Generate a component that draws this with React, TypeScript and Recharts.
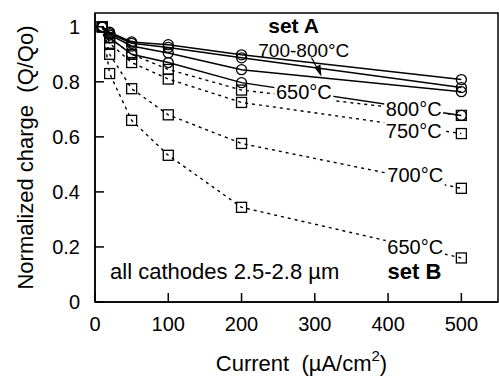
import React from "react";
import {
  LineChart, Line, XAxis, YAxis, ReferenceArea, ReferenceDot,
} from "recharts";

// current density (µA/cm2)
const current = [10, 20, 50, 100, 200, 500];

// set A (circles, solid)
const a800 = [1.0, 0.98, 0.945, 0.935, 0.898, 0.808];
const a750 = [1.0, 0.975, 0.94, 0.925, 0.887, 0.779];
const a700 = [1.0, 0.97, 0.93, 0.905, 0.844, 0.764];
const a650 = [1.0, 0.96, 0.9, 0.87, 0.797, 0.678];

// set B (squares, dotted)
const b800 = [1.0, 0.96, 0.9, 0.845, 0.77, 0.678];
const b750 = [1.0, 0.94, 0.87, 0.81, 0.725, 0.612];
const b700 = [1.0, 0.9, 0.775, 0.68, 0.576, 0.413];
const b650 = [1.0, 0.83, 0.66, 0.533, 0.344, 0.16];

const xTicks = [0, 100, 200, 300, 400, 500];
const yTicks = [0, 0.2, 0.4, 0.6, 0.8, 1];

const setA = [
  { key: "a800", vals: a800 },
  { key: "a750", vals: a750 },
  { key: "a700", vals: a700 },
  { key: "a650", vals: a650 },
];
const setB = [
  { key: "b800", vals: b800 },
  { key: "b750", vals: b750 },
  { key: "b700", vals: b700 },
  { key: "b650", vals: b650 },
];

const data = current.map((c, i) => {
  const row: Record<string, number> = { current: c };
  [...setA, ...setB].forEach((s) => { row[s.key] = s.vals[i]; });
  return row;
});

// text annotations, in data coordinates
const notes = [
  { x: 271, y: 1.005, text: "set A", size: 21, bold: true, box: false },
  { x: 285, y: 0.915, text: "700-800°C", size: 19, bold: false, box: false },
  { x: 285, y: 0.762, text: "650°C", size: 20, bold: false, box: true },
  { x: 435, y: 0.703, text: "800°C", size: 20, bold: false, box: true },
  { x: 435, y: 0.623, text: "750°C", size: 20, bold: false, box: true },
  { x: 437, y: 0.46, text: "700°C", size: 20, bold: false, box: true },
  { x: 437, y: 0.2, text: "650°C", size: 20, bold: false, box: true },
  { x: 177, y: 0.109, text: "all cathodes 2.5-2.8 µm", size: 22, bold: false, box: false },
  { x: 436, y: 0.109, text: "set B", size: 22, bold: true, box: false },
];

const FONT = "'Liberation Sans', Arial, Helvetica, sans-serif";

function Note({ cx, cy, text, bold, box, size }: any) {
  const w = text.length * size * 0.55 + 4;
  return (
    <g>
      {box && <rect x={cx - w / 2} y={cy - 11} width={w} height={22} fill="#fff" />}
      <text
        x={cx} y={cy} textAnchor="middle" dominantBaseline="central"
        fontFamily={FONT} fontSize={size} fontWeight={bold ? 700 : 400} fill="#000"
      >
        {text}
      </text>
    </g>
  );
}

function Arrow({ cx, cy }: any) {
  return (
    <g>
      <line x1={cx - 10} y1={cy - 19} x2={cx - 2} y2={cy - 4} stroke="#000" strokeWidth={1.2} />
      <polygon points={`${cx},${cy} ${cx - 7},${cy - 9} ${cx - 1},${cy - 12}`} fill="#000" />
    </g>
  );
}

function Square(p: any) {
  if (p.cx == null || p.cy == null) return <g key={p.key} />;
  return (
    <rect
      key={p.key} x={p.cx - 5} y={p.cy - 5} width={10} height={10}
      fill="none" stroke="#000" strokeWidth={1.3}
    />
  );
}

function YTitle({ viewBox }: any) {
  const x = viewBox.x + 25;
  const y = viewBox.y + viewBox.height / 2;
  return (
    <text
      x={x} y={y} transform={`rotate(-90 ${x} ${y})`} textAnchor="middle"
      dominantBaseline="central" fontFamily={FONT} fontSize={22} fill="#000"
    >
      Normalized charge{"\u00a0\u00a0"}(Q/Qo)
    </text>
  );
}

function XTitle({ viewBox }: any) {
  const x = viewBox.x + viewBox.width / 2 + 5;
  const y = viewBox.y + 61;
  return (
    <text
      x={x} y={y} textAnchor="middle" dominantBaseline="central"
      fontFamily={FONT} fontSize={22} fill="#000"
    >
      Current{"\u00a0\u00a0"}(µA/cm<tspan dy={-8} fontSize={15}>2</tspan><tspan dy={8}>)</tspan>
    </text>
  );
}

const tickStyle = { fill: "#000", fontSize: 20, fontFamily: FONT };

export default function App() {
  return (
    <div style={{ position: "absolute", left: 0, top: 0, background: "#fff" }}>
      <LineChart
        width={499} height={380} data={data}
        margin={{ top: 13, right: 1, left: 0, bottom: 0 }}
      >
        <XAxis
          dataKey="current" type="number" domain={[0, 550]} ticks={xTicks}
          allowDataOverflow height={78}
          tick={tickStyle} tickSize={-9} tickMargin={24}
          axisLine={{ stroke: "#000", strokeWidth: 1.5 }}
          tickLine={{ stroke: "#000", strokeWidth: 1.5 }}
          label={<XTitle />}
        />
        <YAxis
          type="number" domain={[0, 1.05]} ticks={yTicks} allowDataOverflow width={95}
          tick={tickStyle} tickSize={-9} tickMargin={24}
          tickFormatter={(v: number) => String(v)}
          axisLine={{ stroke: "#000", strokeWidth: 1.5 }}
          tickLine={{ stroke: "#000", strokeWidth: 1.5 }}
          label={<YTitle />}
        />
        <ReferenceArea
          x1={0} x2={550} y1={0} y2={1.05}
          fill="none" fillOpacity={0} stroke="#000" strokeWidth={1.5}
        />

        {setB.map((s) => (
          <Line
            key={s.key} dataKey={s.key} stroke="#000" strokeWidth={1.4}
            strokeDasharray="3 4" dot={<Square />} isAnimationActive={false}
          />
        ))}
        {setA.map((s) => (
          <Line
            key={s.key} dataKey={s.key} stroke="#000" strokeWidth={1.5}
            dot={{ r: 5, fill: "none", stroke: "#000", strokeWidth: 1.3 }}
            isAnimationActive={false}
          />
        ))}

        {notes.map((n, i) => (
          <ReferenceDot
            key={i} x={n.x} y={n.y}
            shape={(p: any) => (
              <Note {...p} text={n.text} bold={n.bold} box={n.box} size={n.size} />
            )}
          />
        ))}
        <ReferenceDot x={309} y={0.819} shape={(p: any) => <Arrow {...p} />} />
      </LineChart>
    </div>
  );
}
